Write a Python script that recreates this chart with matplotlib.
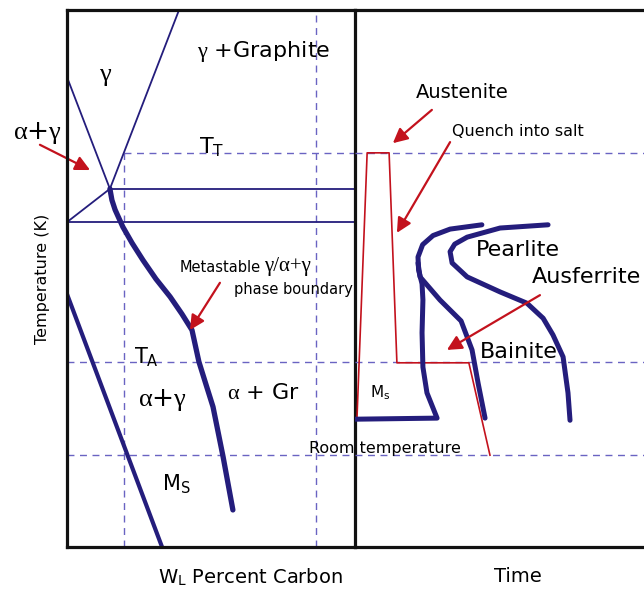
import matplotlib
matplotlib.use("Agg")
import matplotlib.pyplot as plt

plt.rcParams['font.family'] = 'DejaVu Sans'
plt.rcParams['mathtext.fontset'] = 'custom'
plt.rcParams['mathtext.rm'] = 'Liberation Serif'
plt.rcParams['mathtext.it'] = 'Liberation Serif'
plt.rcParams['mathtext.bf'] = 'Liberation Serif:bold'

# colours
navy = '#241d7c'
dash_col = '#6a63c2'
red = '#c3121d'

# temperature levels (0 = bottom, 100 = top of frame)
T_T = 73.4
T_upper = 66.7
T_lower = 60.5
T_A = 34.5
T_room = 17.1
T_ms = 23.8

# left panel: composition (0-100)
c_dash1 = 19.8
c_dash2 = 86.5
ag_c = [0, 14.9]
ag_T = [87.5, 66.7]
graph_c = [14.9, 38.9]
graph_T = [66.7, 100]
short_c = [0, 14.9]
short_T = [60.5, 66.7]
meta_c = [14.9, 15.6, 16.7, 19.4, 22.6, 26.4, 30.9, 35.8, 39.9, 43.4, 45.8, 48.3, 50.7, 54.2, 57.6]
meta_T = [66.7, 64.6, 62.8, 59.6, 56.6, 53.4, 49.9, 46.6, 43.4, 40.4, 34.5, 30.2, 26.1, 16.8, 6.9]
ms_c = [0, 33.0]
ms_T = [47.1, 0]

# right panel: time (0-100)
path_t = [0.7, 4.2, 11.8, 14.5, 39.4, 46.7]
path_T = [24.2, 73.4, 73.4, 34.3, 34.3, 17.1]
bain1_t = [0, 28.4, 24.9, 23.5, 23.2, 23.5, 23.2, 22.0, 21.8, 23.4, 27.0, 32.9, 43.9]
bain1_T = [23.8, 24.0, 28.7, 33.5, 39.9, 46.0, 49.0, 51.6, 54.0, 56.3, 58.0, 59.2, 60.0]
bain2_t = [21.8, 22.5, 29.4, 36.7, 40.5, 42.6, 45.0]
bain2_T = [52.9, 50.3, 46.0, 42.1, 36.7, 30.5, 24.0]
pearl_t = [66.8, 50.2, 38.8, 34.5, 32.9, 33.6, 38.8, 50.2, 59.5, 65.1, 68.5, 72.0, 73.7, 74.4]
pearl_T = [60.0, 59.4, 57.7, 56.4, 55.0, 52.9, 50.3, 47.5, 45.4, 42.6, 39.5, 35.4, 28.7, 23.6]

fig = plt.figure(figsize=(6.44, 5.91), dpi=100)
ax1 = fig.add_axes([67/644, 44/591, 288/644, 537/591])
ax2 = fig.add_axes([355/644, 44/591, 289/644, 537/591])
ax2.patch.set_visible(False)

for ax in (ax1, ax2):
    ax.set_xlim(0, 100)
    ax.set_ylim(0, 100)
    ax.set_xticks([])
    ax.set_yticks([])
    for s in ax.spines.values():
        s.set_linewidth(2.3)
        s.set_color('#111111')
        s.set_zorder(5)
ax2.spines['left'].set_visible(False)
ax2.spines['right'].set_visible(False)

dash = dict(color=dash_col, lw=1.0, ls=(0, (5, 4)))

# left panel dashed guides
ax1.plot([c_dash1, c_dash1], [0, T_T], **dash)
ax1.plot([c_dash2, c_dash2], [0, 100], **dash)
ax1.plot([c_dash1, 100], [T_T, T_T], **dash)
ax1.plot([0, 100], [T_A, T_A], **dash)
ax1.plot([0, 100], [T_room, T_room], **dash)

# phase lines
ax1.plot(ag_c, ag_T, color=navy, lw=1.3)
ax1.plot(graph_c, graph_T, color=navy, lw=1.3)
ax1.plot(short_c, short_T, color=navy, lw=1.3)
ax1.plot([graph_c[0], 100], [T_upper, T_upper], color=navy, lw=1.3)
ax1.plot([0, 100], [T_lower, T_lower], color=navy, lw=1.3)
ax1.plot(meta_c, meta_T, color=navy, lw=3.8, solid_capstyle='round', solid_joinstyle='round')
ax1.plot(ms_c, ms_T, color=navy, lw=3.0)

arrow = dict(arrowstyle='-|>', color=red, lw=1.6, mutation_scale=22, shrinkA=0, shrinkB=0)

# left labels
ax1.text(13.5, 87.9, r'$\gamma$', fontsize=19, ha='center', va='center')
ax1.text(45.1, 92.2, r'$\gamma$ +Graphite', fontsize=16, ha='left', va='center')
ax1.text(-10.4, 77.1, r'$\alpha$+$\gamma$', fontsize=19, ha='center', va='center')
ax1.annotate('', xy=(8.0, 70.2), xytext=(-9.4, 74.9), annotation_clip=False, arrowprops=arrow)
ax1.text(50.3, 74.5, r'T$_\mathregular{T}$', fontsize=16, ha='center', va='center')
ax1.text(39.2, 52.0, 'Metastable', fontsize=10.5, ha='left', va='center')
ax1.text(68.5, 52.3, 'γ/α+γ', fontsize=15, family='Liberation Serif', ha='left', va='center')
ax1.text(78.5, 47.9, 'phase boundary', fontsize=10.5, ha='center', va='center')
ax1.annotate('', xy=(42.7, 40.4), xytext=(53.1, 49.2), arrowprops=arrow)
ax1.text(27.4, 35.4, r'T$_\mathregular{A}$', fontsize=15, ha='center', va='center')
ax1.text(33.3, 27.4, r'$\alpha$+$\gamma$', fontsize=19, ha='center', va='center')
ax1.text(68.1, 28.7, r'$\alpha$ + Gr', fontsize=16, ha='center', va='center')
ax1.text(37.8, 11.9, r'M$_\mathregular{S}$', fontsize=15, ha='center', va='center')
ax1.set_ylabel('Temperature (K)', fontsize=11.5, labelpad=12)

# right panel dashed guides
ax2.plot([0, 100], [T_T, T_T], **dash)
ax2.plot([0, 100], [T_A, T_A], **dash)
ax2.plot([0, 100], [T_room, T_room], **dash)

# cooling path and transformation curves
ax2.plot(path_t, path_T, color=red, lw=1.2)
ax2.plot(bain1_t, bain1_T, color=navy, lw=3.6, solid_capstyle='round', solid_joinstyle='round')
ax2.plot(bain2_t, bain2_T, color=navy, lw=3.6, solid_capstyle='round', solid_joinstyle='round')
ax2.plot(pearl_t, pearl_T, color=navy, lw=3.6, solid_capstyle='round', solid_joinstyle='round')

# right labels
ax2.text(37.0, 84.7, 'Austenite', fontsize=14, ha='center', va='center')
ax2.annotate('', xy=(13.1, 75.2), xytext=(26.6, 81.4), arrowprops=arrow)
ax2.text(56.4, 77.3, 'Quench into salt', fontsize=11.5, ha='center', va='center')
ax2.annotate('', xy=(14.5, 58.5), xytext=(32.9, 75.4), arrowprops=arrow)
ax2.text(56.4, 55.3, 'Pearlite', fontsize=16, ha='center', va='center')
ax2.text(61.2, 50.3, 'Ausferrite', fontsize=16, ha='left', va='center')
ax2.annotate('', xy=(31.8, 36.7), xytext=(64.0, 46.9), arrowprops=arrow)
ax2.text(56.7, 36.3, 'Bainite', fontsize=16, ha='center', va='center')
ax2.text(8.7, 28.7, r'M$_\mathregular{s}$', fontsize=11, ha='center', va='center')
ax2.text(10.4, 18.4, 'Room temperature', fontsize=11.5, ha='center', va='center')

fig.text(250/644, 1 - 577/591, r'W$_\mathregular{L}$ Percent Carbon', fontsize=14, ha='center', va='center')
fig.text(518/644, 1 - 577/591, 'Time', fontsize=14, ha='center', va='center')

fig.savefig('out.png', dpi=100)
